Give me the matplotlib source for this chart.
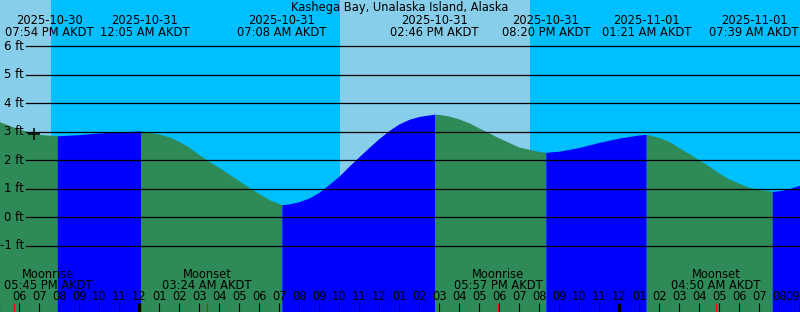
import pandas as pd
import matplotlib.pyplot as plt
import matplotlib.transforms as mtransforms

title = "Kashega Bay, Unalaska Island, Alaska"

# tide height readings (ft), hourly / half-hourly plus highs and lows
tide_times = ["2025-10-30 17:00", "2025-10-30 18:00", "2025-10-30 19:00", "2025-10-30 19:54",
              "2025-10-30 21:00", "2025-10-30 22:00", "2025-10-30 23:00", "2025-10-31 00:05",
              "2025-10-31 01:00", "2025-10-31 01:30", "2025-10-31 02:00", "2025-10-31 02:30",
              "2025-10-31 03:00", "2025-10-31 03:30", "2025-10-31 04:00", "2025-10-31 04:30",
              "2025-10-31 05:00", "2025-10-31 05:30", "2025-10-31 06:00", "2025-10-31 06:30",
              "2025-10-31 07:08", "2025-10-31 07:30", "2025-10-31 08:00", "2025-10-31 08:30",
              "2025-10-31 09:00", "2025-10-31 09:30", "2025-10-31 10:00", "2025-10-31 10:30",
              "2025-10-31 11:00", "2025-10-31 11:30", "2025-10-31 12:00", "2025-10-31 12:30",
              "2025-10-31 13:00", "2025-10-31 13:30", "2025-10-31 14:00", "2025-10-31 14:46",
              "2025-10-31 15:00", "2025-10-31 15:30", "2025-10-31 16:00", "2025-10-31 16:30",
              "2025-10-31 17:00", "2025-10-31 18:00", "2025-10-31 19:00", "2025-10-31 20:00",
              "2025-10-31 20:20", "2025-10-31 21:00", "2025-10-31 22:00", "2025-10-31 23:00",
              "2025-11-01 00:00", "2025-11-01 01:00", "2025-11-01 01:21", "2025-11-01 02:00",
              "2025-11-01 02:30", "2025-11-01 03:00", "2025-11-01 03:30", "2025-11-01 04:00",
              "2025-11-01 04:30", "2025-11-01 05:00", "2025-11-01 05:30", "2025-11-01 06:00",
              "2025-11-01 06:30", "2025-11-01 07:00", "2025-11-01 07:39", "2025-11-01 08:00",
              "2025-11-01 08:30", "2025-11-01 09:00", "2025-11-01 09:30"]
tide_ft = [3.36, 3.09, 2.91, 2.86,
           2.90, 2.96, 3.00, 3.03,
           2.92, 2.82, 2.66, 2.45,
           2.19, 1.96, 1.74, 1.51,
           1.28, 1.04, 0.83, 0.62,
           0.44, 0.47, 0.55, 0.68,
           0.88, 1.16, 1.45, 1.80,
           2.13, 2.46, 2.77, 3.05,
           3.28, 3.44, 3.54, 3.62,
           3.61, 3.55, 3.45, 3.31,
           3.13, 2.78, 2.46, 2.31,
           2.28, 2.32, 2.45, 2.63,
           2.78, 2.89, 2.91, 2.80,
           2.66, 2.44, 2.23, 2.01,
           1.79, 1.55, 1.34, 1.19,
           1.05, 0.98, 0.91, 0.93,
           1.01, 1.12, 1.25]

# highs and lows
extreme_times = ["2025-10-30 19:54", "2025-10-31 00:05", "2025-10-31 07:08", "2025-10-31 14:46",
                 "2025-10-31 20:20", "2025-11-01 01:21", "2025-11-01 07:39"]
label_nudge = [-0.4, 0.2, 0, 0, 0, 0, -0.9]  # hours, keeps labels apart / on the picture

# daylight
day_start = ["2025-10-30 16:00", "2025-10-31 10:02"]
day_end = ["2025-10-30 19:35", "2025-10-31 19:32"]

# moon
moon_times = ["2025-10-30 17:45", "2025-10-31 03:24", "2025-10-31 17:57", "2025-11-01 04:50"]
moon_names = ["Moonrise", "Moonset", "Moonrise", "Moonset"]
moon_nudge = [1.7, 0, 0, 0]

now_time = "2025-10-30 18:44"
now_ft = 2.92

t0 = pd.Timestamp("2025-10-30 00:00")


def hrs(s):
    return (pd.Timestamp(s) - t0) / pd.Timedelta(hours=1)


t = [hrs(s) for s in tide_times]
ext = [hrs(s) for s in extreme_times]

W, H = 800, 312
fig = plt.figure(figsize=(8, 3.12), dpi=100)
ax = fig.add_axes([0, 0, 1, 1])
ax.set_axis_off()

x_left = 18 - 19.2 / 20
x_right = x_left + 40
y_bot = -(H - 217.3) / 28.5
y_top = 217.3 / 28.5
ax.set_xlim(x_left, x_right)
ax.set_ylim(y_bot, y_top)

# sky: night by default, day spans lighter
ax.axvspan(x_left, x_right, color="#00BFFF", lw=0, zorder=0)
for a, b in zip(day_start, day_end):
    ax.axvspan(hrs(a), hrs(b), color="#87CEEB", lw=0, zorder=1)

# water, coloured by rising / falling
bounds = [t[0]] + ext + [t[-1]]
for a, b in zip(bounds[:-1], bounds[1:]):
    seg_t = [x for x in t if a <= x <= b]
    seg_h = [h for x, h in zip(t, tide_ft) if a <= x <= b]
    col = "#0000FF" if seg_h[-1] > seg_h[0] else "#2E8B57"
    ax.fill_between(seg_t, y_bot, seg_h, color=col, lw=0, zorder=2)

# grid lines and y labels
trans_y = mtransforms.blended_transform_factory(ax.transAxes, ax.transData)
for ft in range(-1, 7):
    ax.axhline(ft, xmin=26 / W, xmax=1, color="black", lw=0.9, zorder=3)
    ax.text(24 / W, ft, f"{ft} ft", transform=trans_y, ha="right", va="center",
            fontsize=8.5, zorder=4)

ax.plot([hrs(now_time)], [now_ft], marker="+", color="black", ms=8, mew=1.1, zorder=5)

fs = 8.3
trans_x = mtransforms.blended_transform_factory(ax.transData, ax.transAxes)

# title and high/low labels
ax.text(0.5, (H - 7) / H, title, transform=ax.transAxes, ha="center", va="center", fontsize=fs)
for s, nudge in zip(extreme_times, label_nudge):
    ts = pd.Timestamp(s)
    x = hrs(s) + nudge
    ax.text(x, (H - 20) / H, ts.strftime("%Y-%m-%d"), transform=trans_x,
            ha="center", va="center", fontsize=fs, zorder=6)
    ax.text(x, (H - 32) / H, ts.strftime("%I:%M %p AKDT"), transform=trans_x,
            ha="center", va="center", fontsize=fs, zorder=6)

# hour ticks and labels
for h in range(17, 58):
    lw = 2.4 if h % 24 == 0 else 0.8
    ax.plot([h, h], [0, 9 / H], transform=trans_x, color="black", lw=lw, zorder=6,
            solid_capstyle="butt")
    if h == 17:
        continue  # label would fall off the left edge
    ha = "right" if h == 57 else "center"
    xl = x_right if h == 57 else h
    ax.text(xl, (H - 297) / H, f"{(h - 1) % 12 + 1:02d}", transform=trans_x,
            ha=ha, va="center", fontsize=fs, zorder=6)

# moon rise / set
for s, name, nudge in zip(moon_times, moon_names, moon_nudge):
    x = hrs(s)
    ax.plot([x, x], [0, 9 / H], transform=trans_x, color="red", lw=0.8, zorder=7,
            solid_capstyle="butt")
    ax.text(x + nudge, (H - 274) / H, name, transform=trans_x, ha="center", va="center",
            fontsize=fs, zorder=6)
    ax.text(x + nudge, (H - 285.5) / H, pd.Timestamp(s).strftime("%I:%M %p AKDT"),
            transform=trans_x, ha="center", va="center", fontsize=fs, zorder=6)

fig.savefig("out.png", dpi=100)
